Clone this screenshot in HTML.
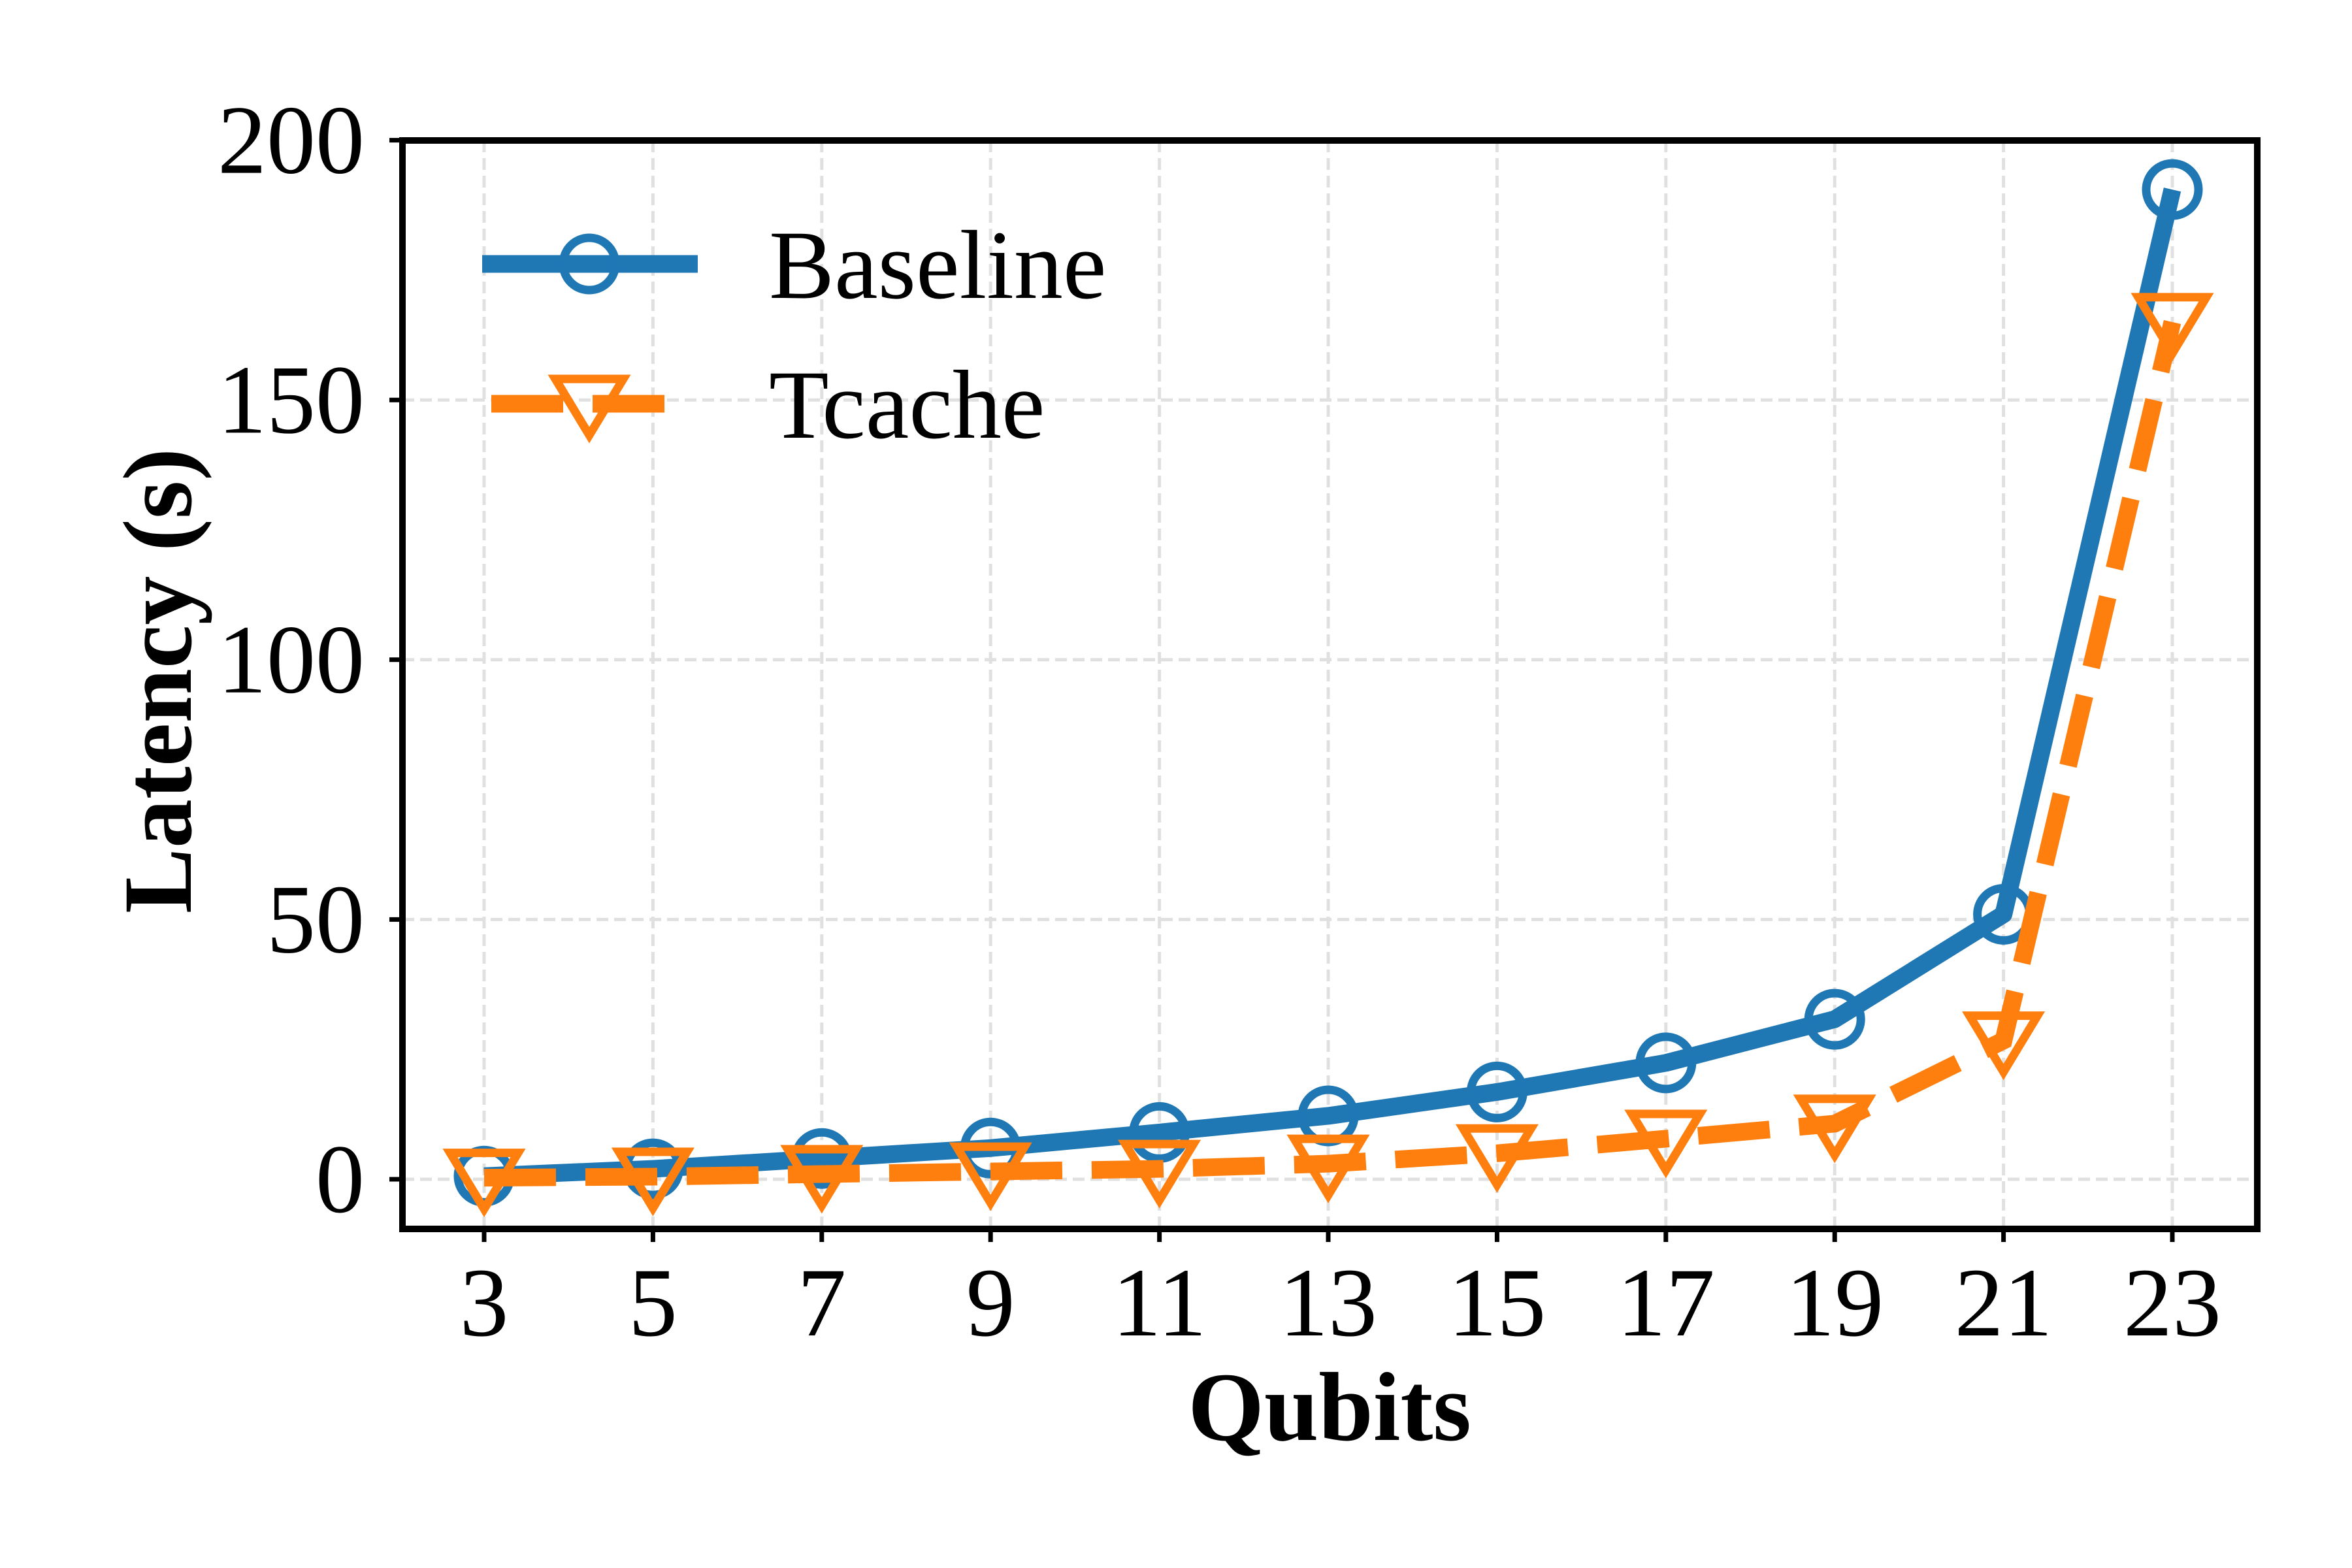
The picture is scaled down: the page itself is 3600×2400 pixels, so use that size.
<!DOCTYPE html>
<html><head><meta charset="utf-8"><style>
html,body{margin:0;padding:0;background:#fff}
svg{display:block}
text{font-family:"Liberation Serif",serif;fill:#000}
</style></head><body>
<svg id="chart" width="3600" height="2400" viewBox="0 0 3600 2400" xmlns="http://www.w3.org/2000/svg">
<rect width="3600" height="2400" fill="#fff"/>
<g id="grid"></g>
<g id="series"></g>
<rect x="616" y="215" width="2839" height="1666" fill="none" stroke="#000" stroke-width="10"/>
<g id="ticks"></g>
<text x="2035" y="2204" font-size="150" font-weight="bold" text-anchor="middle">Qubits</text>
<text transform="translate(292,1042) rotate(-90)" font-size="150" font-weight="bold" text-anchor="middle">Latency (s)</text>
<g id="legend">
  <g>
    <line x1="738" y1="404" x2="1068" y2="404" stroke="#1f77b4" stroke-width="27"/>
    <circle cx="902" cy="404" r="40" fill="none" stroke="#1f77b4" stroke-width="13"/>
    <text x="1177" y="456" font-size="150">Baseline</text>
  </g>
  <g>
    <line x1="752" y1="618" x2="1058" y2="618" stroke="#ff7f0e" stroke-width="27" stroke-dasharray="110,45"/>
    <path d="M850,580 L954,580 L902,666 Z" fill="none" stroke="#ff7f0e" stroke-width="13"/>
    <text x="1177" y="670" font-size="150">Tcache</text>
  </g>
</g>
</svg>
<script>
const categories = [3,5,7,9,11,13,15,17,19,21,23];
const baselineValues = [0.6,2,4,6,9,12.2,16.8,22.4,30.8,51,190.5];
const tcacheValues = [0.3,0.5,1,1.5,2,3,5,7.8,10.7,26.7,165];
const yTicks = [0,50,100,150,200];
const NS = "http://www.w3.org/2000/svg";
const L=616,R=3455,T=215,B=1881;
function xs(q){return 741+(q-3)*(3325-741)/20;}
function ys(v){return 1805-v*(1805-214.6)/200;}
function mk(tag,attrs,parent){const e=document.createElementNS(NS,tag);for(const k in attrs)e.setAttribute(k,attrs[k]);parent.appendChild(e);return e;}
const grid=document.getElementById('grid'),ticks=document.getElementById('ticks'),series=document.getElementById('series');
categories.forEach(q=>{
  const x=xs(q);
  const g=mk('line',{x1:x,y1:T,x2:x,y2:B,stroke:'#e0e0e0','stroke-width':5,'stroke-dasharray':'18,9'},grid);
  
  
  const t=mk('line',{x1:x,y1:B,x2:x,y2:B+20,stroke:'#000','stroke-width':7},ticks);
  
  
  const lb=mk('text',{x:x,y:2044,'font-size':150,'text-anchor':'middle'},ticks);
  lb.textContent=q;
  
  
});
yTicks.forEach(v=>{
  const y=ys(v);
  const g=mk('line',{x1:L,y1:y,x2:R,y2:y,stroke:'#e0e0e0','stroke-width':5,'stroke-dasharray':'18,9'},grid);
  
  
  const t=mk('line',{x1:L-20,y1:y,x2:L,y2:y,stroke:'#000','stroke-width':7},ticks);
  
  
  const lb=mk('text',{x:558,y:y+50,'font-size':150,'text-anchor':'end'},ticks);
  lb.textContent=v;
  
  
});
function pts(vals){return categories.map((q,i)=>xs(q)+','+ys(vals[i])).join(' ');}
const bl=mk('polyline',{points:pts(baselineValues),fill:'none',stroke:'#1f77b4','stroke-width':27,'stroke-linejoin':'round'},series);


categories.forEach((q,i)=>{
  const c=mk('circle',{cx:xs(q),cy:ys(baselineValues[i]),r:40,fill:'none',stroke:'#1f77b4','stroke-width':13},series);
  
  
});
const tl=mk('polyline',{points:pts(tcacheValues),fill:'none',stroke:'#ff7f0e','stroke-width':27,'stroke-dasharray':'110,45'},series);


categories.forEach((q,i)=>{
  const x=xs(q),y=ys(tcacheValues[i]);
  const p=mk('path',{d:`M${x-52},${y-38} L${x+52},${y-38} L${x},${y+48} Z`,fill:'none',stroke:'#ff7f0e','stroke-width':13},series);
  
  
});
</script>
</body></html>
